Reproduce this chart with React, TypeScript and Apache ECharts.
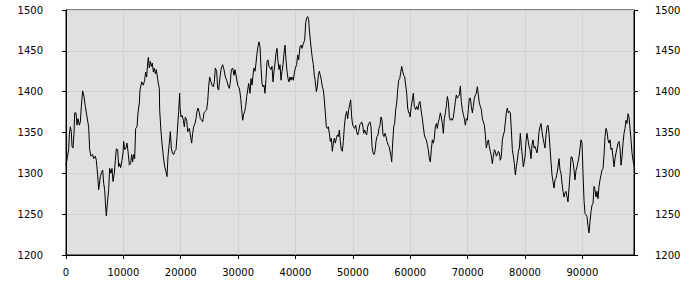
import React, { useEffect, useRef } from "react";
import * as echarts from "echarts";

const xValues: number[] = [
  0, 465, 581, 756, 930, 1046, 1220, 1395, 1511, 1743, 1918, 2092, 2324, 2499, 2673, 2905, 3138, 3370, 3661, 3951,
  4125, 4358, 4648, 4823, 5113, 5287, 5520, 5694, 5985, 6159, 6391, 6566, 6740, 6856, 7030, 7205, 7437, 7611, 7844, 8018,
  8192, 8425, 8599, 8773, 9006, 9180, 9354, 9529, 9761, 9935, 10052, 10226, 10458, 10633, 10807, 11039, 11272, 11446, 11620, 11795,
  11969, 12143, 12376, 12550, 12782, 12898, 13189, 13479, 13711, 13886, 14060, 14234, 14351, 14525, 14699, 14873, 15048, 15222, 15396, 15571,
  15745, 15919, 16094, 16268, 16326, 16559, 16733, 16965, 17198, 17430, 17605, 17779, 18011, 18186, 18360, 18534, 18767, 18941, 19173, 19348,
  19638, 19812, 19870, 20045, 20219, 20451, 20626, 20800, 21032, 21207, 21497, 21671, 21904, 22078, 22252, 22485, 22659, 22833, 23008, 23240,
  23414, 23647, 23821, 24053, 24286, 24518, 24693, 24867, 25041, 25274, 25448, 25680, 25855, 26029, 26261, 26436, 26610, 26843, 27075, 27307,
  27540, 27772, 28004, 28237, 28469, 28643, 28818, 29050, 29283, 29457, 29689, 29922, 30096, 30270, 30445, 30619, 30793, 30967, 31142, 31316,
  31491, 31665, 31839, 32071, 32246, 32420, 32594, 32768, 32943, 33117, 33291, 33466, 33640, 33815, 33989, 34163, 34337, 34512, 34686, 34860,
  35035, 35209, 35383, 35557, 35732, 35906, 36080, 36255, 36429, 36603, 36778, 36952, 37126, 37300, 37475, 37649, 37823, 37997, 38172, 38346,
  38520, 38695, 38869, 39043, 39217, 39392, 39624, 39798, 39973, 40205, 40379, 40554, 40786, 40960, 41135, 41367, 41599, 41774, 41948, 42122,
  42297, 42413, 42587, 42761, 42936, 43110, 43284, 43459, 43633, 43807, 43982, 44156, 44330, 44504, 44679, 44853, 45027, 45202, 45376, 45550,
  45725, 45899, 46073, 46248, 46422, 46596, 46770, 46945, 47119, 47293, 47468, 47642, 47816, 47991, 48165, 48339, 48514, 48688, 48920, 49094,
  49269, 49443, 49617, 49792, 49966, 50140, 50315, 50489, 50663, 50838, 51012, 51186, 51360, 51535, 51709, 51883, 52058, 52232, 52406, 52581,
  52755, 52987, 53161, 53336, 53510, 53684, 53859, 54033, 54207, 54382, 54556, 54730, 54905, 55079, 55253, 55427, 55602, 55776, 55950, 56125,
  56299, 56473, 56648, 56764, 56938, 57112, 57287, 57461, 57635, 57810, 57984, 58158, 58332, 58507, 58681, 58855, 59030, 59204, 59378, 59553,
  59727, 59901, 59959, 60191, 60366, 60540, 60714, 60947, 61121, 61353, 61528, 61702, 61876, 62109, 62283, 62457, 62631, 62806, 62980, 63154,
  63329, 63503, 63677, 63852, 64026, 64200, 64375, 64549, 64723, 64897, 65072, 65246, 65420, 65595, 65769, 65943, 66118, 66292, 66466, 66641,
  66815, 66989, 67163, 67338, 67512, 67686, 67861, 68035, 68209, 68384, 68558, 68732, 68906, 69081, 69255, 69429, 69604, 69778, 69952, 70127,
  70301, 70475, 70650, 70824, 70998, 71172, 71347, 71521, 71695, 71870, 72044, 72218, 72393, 72567, 72741, 72916, 73090, 73264, 73438, 73613,
  73787, 73961, 74136, 74310, 74484, 74659, 74833, 75007, 75181, 75356, 75530, 75704, 75879, 76053, 76227, 76402, 76576, 76750, 76924, 77099,
  77273, 77447, 77622, 77796, 77970, 78145, 78319, 78493, 78667, 78842, 79016, 79190, 79365, 79539, 79713, 80004, 80178, 80353, 80527, 80701,
  80876, 81050, 81224, 81399, 81573, 81747, 81921, 82096, 82270, 82444, 82619, 82793, 82967, 83142, 83316, 83490, 83664, 83839, 84013, 84187,
  84362, 84536, 84710, 84885, 85059, 85233, 85407, 85582, 85756, 85930, 86105, 86279, 86453, 86628, 86802, 86976, 87150, 87325, 87499, 87673,
  87848, 88022, 88196, 88371, 88545, 88719, 88894, 89068, 89242, 89416, 89591, 89765, 89939, 90114, 90288, 90462, 90637, 90811, 90985, 91159,
  91334, 91508, 91682, 91857, 92031, 92205, 92379, 92554, 92728, 92902, 93077, 93251, 93425, 93600, 93774, 93948, 94122, 94297, 94471, 94645,
  94820, 94994, 95168, 95343, 95517, 95691, 95865, 96040, 96214, 96388, 96563, 96737, 96911, 97086, 97260, 97434, 97608, 97783, 97957, 98131,
  98306, 98480, 98654, 98829, 99000,
];

const yValues: number[] = [
  1310, 1329, 1347, 1357, 1351, 1333, 1331, 1349, 1374, 1374, 1359, 1367, 1359, 1363, 1382, 1401, 1394, 1382, 1369, 1357,
  1329, 1321, 1323, 1318, 1321, 1316, 1298, 1280, 1296, 1300, 1304, 1288, 1280, 1265, 1248, 1263, 1280, 1306, 1300, 1306,
  1290, 1300, 1316, 1330, 1329, 1308, 1312, 1307, 1316, 1325, 1339, 1329, 1331, 1337, 1327, 1310, 1312, 1323, 1314, 1323,
  1318, 1355, 1357, 1374, 1386, 1402, 1412, 1408, 1414, 1424, 1418, 1435, 1442, 1429, 1437, 1431, 1435, 1424, 1429, 1422,
  1427, 1418, 1410, 1404, 1378, 1351, 1337, 1321, 1308, 1302, 1296, 1321, 1337, 1351, 1331, 1325, 1323, 1327, 1329, 1345,
  1376, 1398, 1382, 1369, 1371, 1365, 1357, 1369, 1365, 1351, 1355, 1347, 1337, 1349, 1357, 1361, 1367, 1376, 1380, 1374,
  1367, 1365, 1363, 1374, 1376, 1378, 1388, 1406, 1418, 1412, 1408, 1406, 1412, 1429, 1425, 1404, 1402, 1418, 1429, 1433,
  1427, 1418, 1414, 1408, 1404, 1412, 1427, 1429, 1420, 1427, 1418, 1408, 1406, 1402, 1392, 1378, 1365, 1372, 1376, 1382,
  1394, 1402, 1410, 1398, 1416, 1408, 1420, 1429, 1425, 1435, 1447, 1455, 1461, 1455, 1429, 1410, 1406, 1408, 1398, 1416,
  1437, 1439, 1431, 1429, 1427, 1431, 1412, 1425, 1435, 1447, 1453, 1437, 1427, 1433, 1414, 1425, 1433, 1447, 1457, 1439,
  1425, 1416, 1412, 1418, 1414, 1418, 1414, 1423, 1429, 1433, 1445, 1439, 1455, 1457, 1453, 1459, 1463, 1484, 1490, 1492,
  1488, 1476, 1463, 1451, 1441, 1433, 1420, 1412, 1400, 1406, 1420, 1425, 1420, 1414, 1406, 1402, 1390, 1374, 1357, 1355,
  1357, 1349, 1339, 1343, 1327, 1337, 1343, 1337, 1343, 1347, 1345, 1353, 1339, 1329, 1327, 1339, 1357, 1369, 1376, 1367,
  1378, 1384, 1390, 1369, 1359, 1357, 1355, 1359, 1351, 1347, 1351, 1359, 1361, 1363, 1359, 1349, 1353, 1349, 1347, 1357,
  1361, 1363, 1357, 1333, 1325, 1323, 1327, 1339, 1345, 1347, 1355, 1359, 1369, 1365, 1347, 1345, 1349, 1345, 1339, 1335,
  1333, 1327, 1321, 1314, 1337, 1357, 1361, 1378, 1386, 1402, 1414, 1416, 1423, 1431, 1425, 1420, 1418, 1408, 1398, 1380,
  1374, 1374, 1369, 1382, 1390, 1398, 1382, 1378, 1382, 1378, 1386, 1388, 1378, 1367, 1357, 1347, 1343, 1341, 1335, 1329,
  1318, 1314, 1329, 1341, 1337, 1343, 1357, 1361, 1355, 1363, 1367, 1374, 1369, 1361, 1349, 1367, 1374, 1382, 1394, 1388,
  1369, 1365, 1367, 1365, 1369, 1378, 1388, 1396, 1392, 1394, 1396, 1407, 1388, 1378, 1372, 1367, 1359, 1367, 1365, 1378,
  1392, 1392, 1382, 1374, 1382, 1392, 1396, 1398, 1406, 1396, 1386, 1382, 1378, 1367, 1363, 1359, 1347, 1331, 1337, 1341,
  1333, 1327, 1321, 1312, 1321, 1329, 1327, 1321, 1323, 1327, 1325, 1316, 1321, 1341, 1347, 1351, 1363, 1374, 1380, 1374,
  1376, 1374, 1353, 1329, 1321, 1312, 1298, 1308, 1316, 1327, 1331, 1349, 1333, 1321, 1308, 1320, 1339, 1349, 1341, 1333,
  1329, 1318, 1335, 1341, 1331, 1333, 1329, 1325, 1335, 1351, 1357, 1361, 1351, 1343, 1337, 1331, 1347, 1357, 1359, 1349,
  1331, 1314, 1298, 1290, 1282, 1292, 1294, 1300, 1308, 1318, 1304, 1300, 1288, 1278, 1271, 1276, 1278, 1271, 1265, 1282,
  1298, 1320, 1320, 1314, 1304, 1292, 1304, 1308, 1314, 1320, 1331, 1341, 1337, 1300, 1267, 1251, 1249, 1247, 1235, 1227,
  1241, 1253, 1261, 1263, 1284, 1280, 1271, 1278, 1269, 1284, 1292, 1298, 1304, 1306, 1322, 1345, 1355, 1351, 1341, 1337,
  1341, 1329, 1331, 1320, 1308, 1318, 1325, 1331, 1337, 1339, 1331, 1310, 1320, 1337, 1349, 1355, 1365, 1361, 1373, 1369,
  1355, 1341, 1325, 1316, 1310,
];

const xMin = 0;
const xMax = 99000;
const xStep = 10000;
const yMin = 1200;
const yMax = 1500;
const yStep = 50;

const labelFont = {
  fontFamily: "DejaVu Sans, Verdana, sans-serif",
  fontSize: 10,
  color: "#000",
};

export default function App() {
  const ref = useRef<HTMLDivElement>(null);

  useEffect(() => {
    document.body.style.margin = "0";
    if (!ref.current) return;
    const chart = echarts.init(ref.current, undefined, { renderer: "svg" });
    const data = xValues.map((x, i) => [x, yValues[i]]);
    const yAxisCommon = {
      type: "value" as const,
      min: yMin,
      max: yMax,
      interval: yStep,
      axisLine: { show: true, lineStyle: { color: "#000", width: 1 } },
      axisTick: { show: true, inside: false, length: 4, lineStyle: { color: "#000" } },
    };
    chart.setOption({
      animation: false,
      backgroundColor: "#fff",
      grid: {
        left: 66,
        right: 66,
        top: 10,
        bottom: 45,
        show: true,
        backgroundColor: "#e0e0e0",
        borderColor: "#000",
        borderWidth: 1,
      },
      xAxis: {
        type: "value",
        min: xMin,
        max: xMax,
        interval: xStep,
        axisLine: { show: true, onZero: false, lineStyle: { color: "#000", width: 1 } },
        axisTick: { show: true, length: 4, lineStyle: { color: "#000" } },
        axisLabel: {
          ...labelFont,
          margin: 12,
          showMaxLabel: false,
          formatter: (v: number) => (v % xStep === 0 ? String(v) : ""),
        },
        splitLine: { show: true, lineStyle: { color: "#d2d2d2", width: 1 } },
      },
      yAxis: [
        {
          ...yAxisCommon,
          position: "left",
          axisLabel: { ...labelFont, margin: 23, formatter: (v: number) => String(v) },
          splitLine: { show: true, lineStyle: { color: "#d2d2d2", width: 1 } },
        },
        {
          ...yAxisCommon,
          position: "right",
          axisLabel: { ...labelFont, margin: 21, formatter: (v: number) => String(v) },
          splitLine: { show: false },
        },
      ],
      series: [
        {
          type: "line",
          data,
          yAxisIndex: 0,
          showSymbol: false,
          symbol: "none",
          smooth: false,
          lineStyle: { color: "#000", width: 1 },
          z: 3,
        },
      ],
    });
    return () => chart.dispose();
  }, []);

  return <div ref={ref} style={{ width: 700, height: 300 }} />;
}
